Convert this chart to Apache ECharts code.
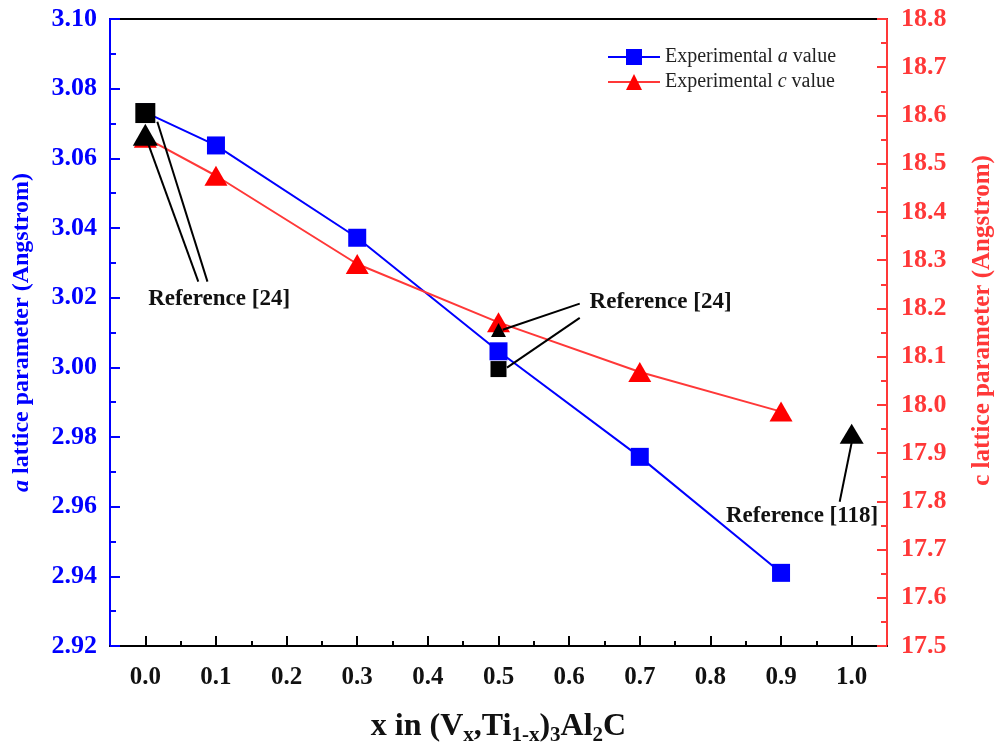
<!DOCTYPE html>
<html>
<head>
<meta charset="utf-8">
<script src="https://cdn.jsdelivr.net/npm/echarts@6/dist/echarts.min.js"></script>
<style>
  html, body { margin: 0; padding: 0; background: #fff; }
  #chart { width: 995px; height: 744px; }
</style>
</head>
<body>
<div id="chart"></div>
<script>
// composition x in (Vx,Ti1-x)3Al2C
const xValues = [0.0, 0.1, 0.3, 0.5, 0.7, 0.9];
// experimental lattice parameters
const aValues = [3.0732, 3.0637, 3.0372, 3.0046, 2.9743, 2.941];
const cValues = [18.554, 18.475, 18.292, 18.171, 18.068, 17.986];
// literature values (black markers)
const refA = [[0.0, 3.073], [0.5, 2.9995]];
const refC = [[0.0, 18.56], [0.5, 18.155], [1.0, 17.94]];

// x axis ticks
const xTicks = [0.0, 0.1, 0.2, 0.3, 0.4, 0.5, 0.6, 0.7, 0.8, 0.9, 1.0];
const xMinorTicks = [0.05, 0.15, 0.25, 0.35, 0.45, 0.55, 0.65, 0.75, 0.85, 0.95];

// annotation arrows [from, to] in (x, a) units
const arrows = [
  [[0.075, 3.0246], [0.003, 3.0648]],
  [[0.088, 3.0246], [0.017, 3.0705]],
  [[0.506, 3.0108], [0.615, 3.0183]],
  [[0.512, 2.9999], [0.615, 3.0142]],
  [[1.0, 2.9784], [0.983, 2.9614]]
];
const notes = [
  [0.004, 3.0195, "Reference [24]"],
  [0.629, 3.0186, "Reference [24]"],
  [0.822, 2.9574, "Reference [118]"]
];

const BLUE = "#0000ff";
const RED = "#ff3838";
const FONT = "Liberation Serif";

const chart = echarts.init(document.getElementById("chart"));

const pairs = (xs, ys) => xs.map((x, i) => [x, ys[i]]);

const option = {
  animation: false,
  textStyle: { fontFamily: FONT },
  grid: {
    left: 110,
    right: 108,
    top: 19,
    bottom: 98,
    outerBoundsMode: "none",
    containLabel: false,
    show: true,
    borderColor: "#000",
    borderWidth: 2,
  },
  legend: {
    left: 602,
    top: 42,
    orient: "vertical",
    itemWidth: 52,
    itemHeight: 20,
    itemGap: 5,
    data: ["a", "c"],
    formatter: (name) =>
      name === "a"
        ? "Experimental {i|a} value"
        : "Experimental {i|c} value",
    textStyle: {
      fontFamily: FONT,
      fontSize: 20,
      color: "#222",
      rich: {
        i: { fontFamily: FONT, fontSize: 20, fontStyle: "italic", color: "#222" },
      },
    },
  },
  xAxis: [
    {
      type: "value",
      min: -0.05,
      max: 1.05,
      name: "x in (V{s|x},Ti{s|1-x}){s|3}Al{s|2}C",
      nameLocation: "middle",
      nameGap: 61,
      nameTextStyle: {
        fontFamily: FONT,
        fontSize: 32,
        fontWeight: "bold",
        color: "#111",
        rich: {
          s: {
            fontFamily: FONT,
            fontSize: 21,
            fontWeight: "bold",
            color: "#111",
            padding: [18, 0, 0, 0],
          },
        },
      },
      axisLine: { onZero: false, lineStyle: { color: "#000", width: 2 } },
      axisTick: { inside: true, length: 10, lineStyle: { width: 2 }, customValues: xTicks },
      splitLine: { show: false },
      axisLabel: {
        customValues: xTicks,
        fontFamily: FONT,
        fontSize: 25,
        fontWeight: "bold",
        color: "#111",
        margin: 19,
        formatter: (v) => v.toFixed(1),
      },
    },
    {
      // minor ticks only
      type: "value",
      position: "bottom",
      min: -0.05,
      max: 1.05,
      axisLine: { show: false, onZero: false },
      axisTick: { show: true, inside: true, length: 5, lineStyle: { color: "#000", width: 2 }, customValues: xMinorTicks },
      axisLabel: { show: false },
      splitLine: { show: false },
    },
  ],
  yAxis: [
    {
      type: "value",
      position: "left",
      min: 2.92,
      max: 3.1,
      interval: 0.02,
      name: "{i|a} lattice parameter (Angstrom)",
      nameLocation: "middle",
      nameRotate: 90,
      nameGap: 76,
      nameTextStyle: {
        fontFamily: FONT,
        fontSize: 24,
        fontWeight: "bold",
        color: BLUE,
        rich: {
          i: { fontFamily: FONT, fontSize: 24, fontWeight: "bold", fontStyle: "italic", color: BLUE },
        },
      },
      axisLine: { show: true, onZero: false, lineStyle: { color: BLUE, width: 2 } },
      axisTick: { show: true, inside: true, length: 10, lineStyle: { width: 2 } },
      minorTick: { show: true, splitNumber: 2, length: 6, lineStyle: { color: BLUE, width: 2 } },
      splitLine: { show: false },
      axisLabel: {
        fontFamily: FONT,
        fontSize: 26,
        fontWeight: "bold",
        color: BLUE,
        margin: 13,
        formatter: (v) => v.toFixed(2),
      },
    },
    {
      type: "value",
      position: "right",
      min: 17.5,
      max: 18.8,
      interval: 0.1,
      name: "c lattice parameter (Angstrom)",
      nameLocation: "middle",
      nameRotate: 90,
      nameGap: 83,
      nameTextStyle: {
        fontFamily: FONT,
        fontSize: 25,
        fontWeight: "bold",
        color: RED,
        padding: [0, 0, 0, 24],
      },
      axisLine: { show: true, onZero: false, lineStyle: { color: RED, width: 2 } },
      axisTick: { show: true, inside: true, length: 10, lineStyle: { width: 2 } },
      minorTick: { show: true, splitNumber: 2, length: 6, lineStyle: { color: RED, width: 2 } },
      splitLine: { show: false },
      axisLabel: {
        fontFamily: FONT,
        fontSize: 26,
        fontWeight: "bold",
        color: RED,
        margin: 14,
        formatter: (v) => v.toFixed(1),
      },
    },
  ],
  series: [
    {
      name: "a",
      type: "line",
      yAxisIndex: 0,
      data: pairs(xValues, aValues),
      symbol: "rect",
      symbolSize: 18,
      itemStyle: { color: BLUE },
      lineStyle: { color: BLUE, width: 2 },
    },
    {
      name: "c",
      type: "line",
      yAxisIndex: 1,
      data: pairs(xValues, cValues),
      symbol: "triangle",
      symbolSize: [23, 20],
      itemStyle: { color: "#ff0000" },
      lineStyle: { color: RED, width: 2 },
    },
    {
      name: "refA",
      type: "scatter",
      yAxisIndex: 0,
      z: 4,
      data: refA,
      symbol: "rect",
      symbolSize: (v, p) => [20, 16][p.dataIndex],
      itemStyle: { color: "#000", opacity: 1 },
    },
    {
      name: "refC",
      type: "scatter",
      yAxisIndex: 1,
      z: 5,
      data: refC,
      symbol: "triangle",
      symbolSize: (v, p) => [[25, 22], [15, 14], [24, 20]][p.dataIndex],
      itemStyle: { color: "#000", opacity: 1 },
    },
    {
      name: "notes",
      type: "scatter",
      yAxisIndex: 0,
      z: 6,
      data: notes,
      symbolSize: 0,
      itemStyle: { opacity: 1 },
      label: {
        show: true,
        position: "right",
        distance: 0,
        formatter: (p) => p.data[2],
        fontFamily: FONT,
        fontSize: 23,
        fontWeight: "bold",
        color: "#111",
      },
      markLine: {
        silent: true,
        symbol: ["none", "arrow"],
        symbolSize: [0, 13],
        label: { show: false },
        lineStyle: { color: "#000", width: 2, type: "solid", opacity: 1 },
        data: arrows.map(([a, b]) => [{ coord: a }, { coord: b }]),
      },
    },
  ],
};

chart.setOption(option);
window.addEventListener("resize", () => chart.resize());
</script>
</body>
</html>
